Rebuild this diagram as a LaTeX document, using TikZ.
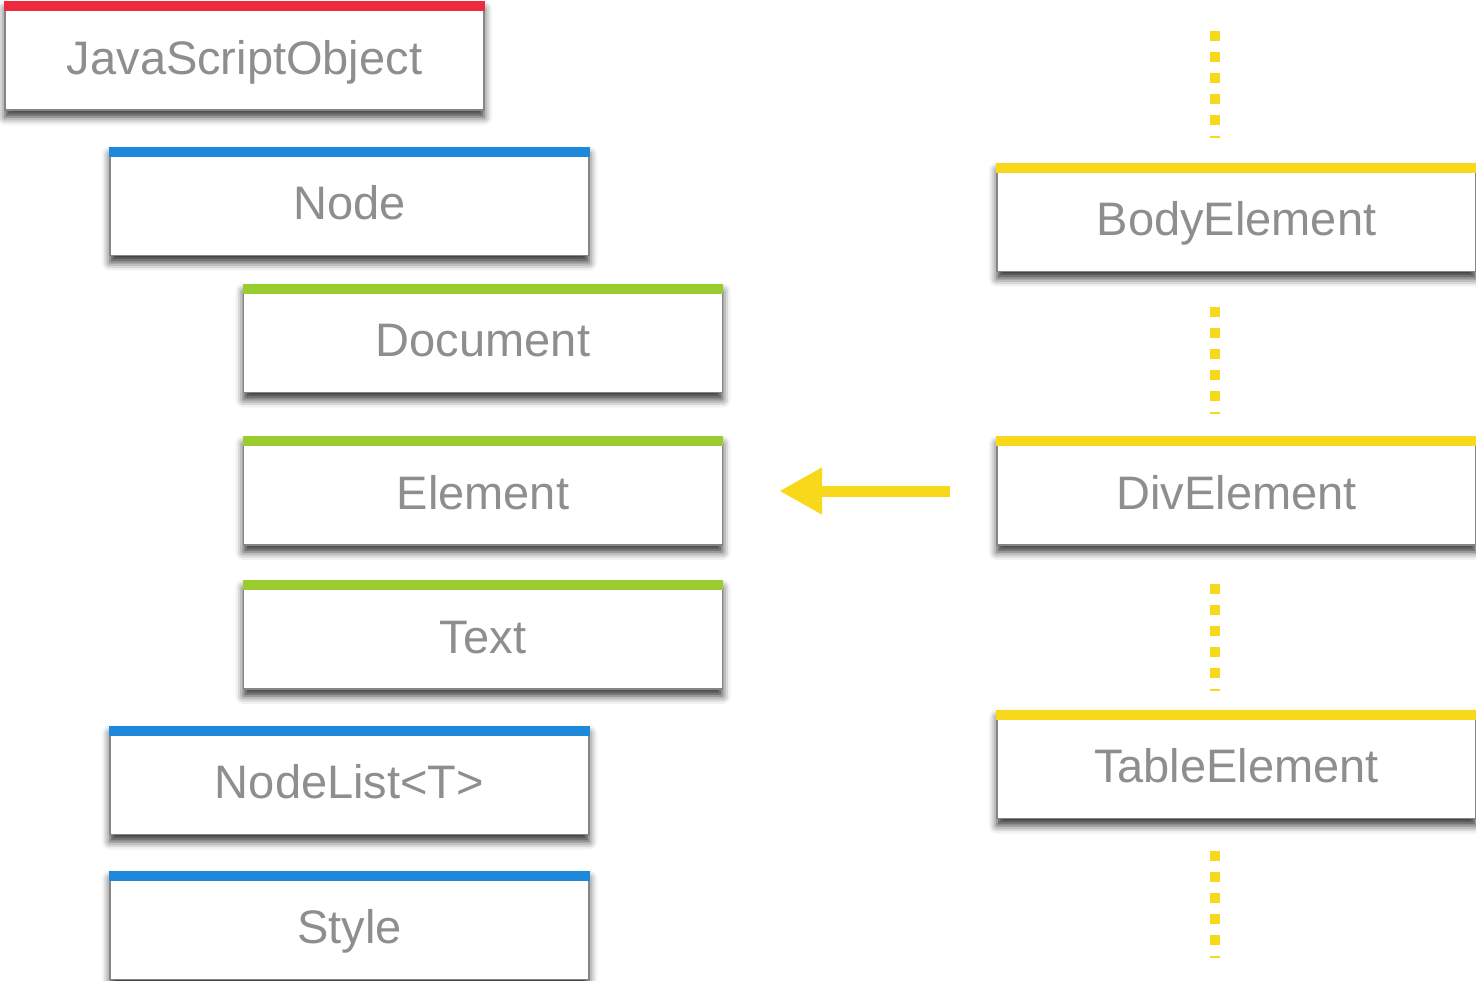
\documentclass[tikz,border=0pt]{standalone}
\usepackage{fontspec}
\setmainfont{Liberation Sans}
\usetikzlibrary{shadows.blur,arrows.meta,calc}
\definecolor{txtgray}{HTML}{8E8E8E}
\definecolor{brd}{HTML}{858585}
\definecolor{barred}{HTML}{EE2A3F}
\definecolor{barblue}{HTML}{1E88DA}
\definecolor{bargreen}{HTML}{99CC2E}
\definecolor{baryellow}{HTML}{F8D81A}
\tikzset{
  box/.style={draw=brd, line width=0.6pt, fill=white, minimum width=239.5pt, minimum height=54pt,
    inner sep=0pt, text=txtgray, font=\fontsize{23.5pt}{28pt}\selectfont,
    text depth=0pt, text height=0pt,
    blur shadow={shadow xshift=0pt, shadow yshift=-3.5pt, shadow blur radius=4pt, shadow opacity=80}},
  dots/.style={baryellow, line width=5pt, dash pattern=on 5pt off 5.5pt},
  arr/.style={baryellow, line width=5.5pt, -{Triangle[length=21.5pt,width=22pt]}}
}
\newcommand{\boxbar}[2]{\fill[#2] (#1.north west) rectangle ($(#1.north east)+(0,10)$);}
\newcommand{\lbl}[1]{\raisebox{-9pt}{#1}}
\begin{document}
\begin{tikzpicture}[x=0.5pt,y=-0.5pt]
\useasboundingbox (0,0) rectangle (1476,980);
\node[box] (jso) at (244.5,56) {\lbl{JavaScriptObject}};
\node[box] (node) at (349.5,201.5) {\lbl{Node}};
\node[box] (doc) at (483,338.5) {\lbl{Document}};
\node[box] (elem) at (483,491) {\lbl{Element}};
\node[box] (text) at (483,635) {\lbl{Text}};
\node[box] (nlist) at (349.5,780.5) {\lbl{NodeList<T>}};
\node[box] (style) at (349.5,925.5) {\lbl{Style}};
\node[box] (body) at (1236.5,217.5) {\lbl{BodyElement}};
\node[box] (div) at (1236.5,491) {\lbl{DivElement}};
\node[box] (table) at (1236.5,764.5) {\lbl{TableElement}};
\boxbar{jso}{barred}
\boxbar{node}{barblue}
\boxbar{nlist}{barblue}
\boxbar{style}{barblue}
\boxbar{doc}{bargreen}
\boxbar{elem}{bargreen}
\boxbar{text}{bargreen}
\boxbar{body}{baryellow}
\boxbar{div}{baryellow}
\boxbar{table}{baryellow}
\coordinate (t1) at (1215,31);
\coordinate (t2) at (1215,138);
\coordinate (t3) at (1215,307);
\coordinate (t4) at (1215,414);
\coordinate (t5) at (1215,584);
\coordinate (t6) at (1215,691);
\coordinate (t7) at (1215,851);
\coordinate (t8) at (1215,958);
\draw[dots] (t1) -- (t2);
\draw[dots] (t3) -- (t4);
\draw[dots] (t5) -- (t6);
\draw[dots] (t7) -- (t8);
\draw[arr, shorten <=23pt, shorten >=28pt] (div.west) -- (elem.east);
\end{tikzpicture}
\end{document}
